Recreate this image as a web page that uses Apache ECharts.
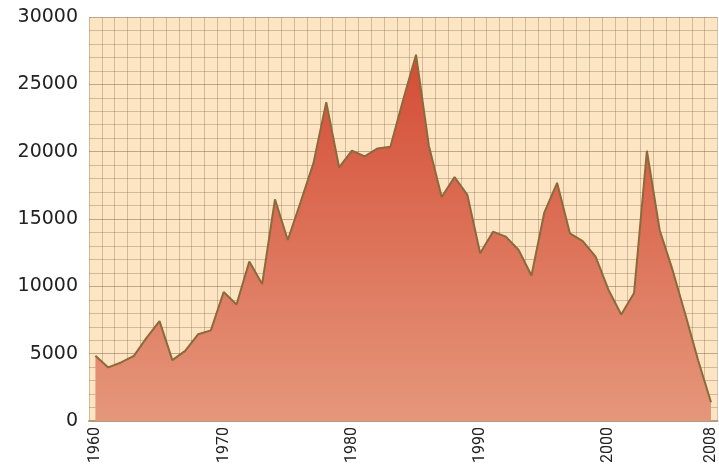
<!DOCTYPE html>
<html>
<head>
<meta charset="utf-8">
<script src="https://cdn.jsdelivr.net/npm/echarts@6/dist/echarts.min.js"></script>
<style>
html,body{margin:0;padding:0;background:#fff;}
#chart{width:719px;height:466px;}
</style>
</head>
<body>
<div id="chart"></div>
<script>
var years = [];
for (var y = 1960; y <= 2008; y++) years.push(String(y));

var values = [
  4850, 3980, 4350, 4840, 6190, 7420, 4520, 5210, 6440, 6730,
  9580, 8650, 11840, 10170, 16460, 13440, 16260, 19150, 23680, 18840,
  20070, 19650, 20240, 20370, 23880, 27200, 20440, 16630, 18110, 16800,
  12460, 14060, 13690, 12700, 10810, 15480, 17690, 13930, 13360, 12210,
  9750, 7910, 9510, 20070, 14170, 11220, 7910, 4500, 1400
];

var yTicks = [0, 5000, 10000, 15000, 20000, 25000, 30000];

var chart = echarts.init(document.getElementById('chart'), null, {renderer: 'canvas'});
chart.setOption({
  animation: false,
  backgroundColor: '#ffffff',
  grid: {
    left: 89, right: 0, top: 17, bottom: 42,
    show: true,
    backgroundColor: '#fde5c3',
    borderWidth: 0
  },
  xAxis: {
    type: 'category',
    data: years,
    boundaryGap: true,
    axisLine: {show: true, lineStyle: {color: '#b39c7e', width: 2}},
    axisTick: {show: false},
    splitLine: {show: true, interval: 0, lineStyle: {color: 'rgba(110,85,60,0.3)', width: 1}},
    axisLabel: {
      rotate: 90,
      margin: 6,
      interval: function (i) { return i % 10 === 0 || i === years.length - 1; },
      fontFamily: 'Roboto',
      fontSize: 16,
      color: '#222'
    }
  },
  yAxis: {
    type: 'value',
    min: yTicks[0],
    max: yTicks[yTicks.length - 1],
    interval: 5000,
    axisLine: {show: false},
    axisTick: {show: false},
    minorTick: {show: false, splitNumber: 5},
    splitLine: {show: true, lineStyle: {color: 'rgba(100,75,50,0.4)', width: 1}},
    minorSplitLine: {show: true, lineStyle: {color: 'rgba(110,85,60,0.3)', width: 1}},
    axisLabel: {
      margin: 11,
      fontFamily: 'DejaVu Sans',
      fontSize: 19,
      color: '#222',
      formatter: function (v) { return String(v); }
    }
  },
  series: [{
    type: 'line',
    data: values,
    symbol: 'none',
    smooth: false,
    lineStyle: {color: '#8b6a3c', width: 2},
    areaStyle: {
      opacity: 1,
      color: new echarts.graphic.LinearGradient(0, 0, 0, 1, [
        {offset: 0, color: '#d44c35'},
        {offset: 1, color: '#e5977b'}
      ])
    }
  }]
});
</script>
</body>
</html>
